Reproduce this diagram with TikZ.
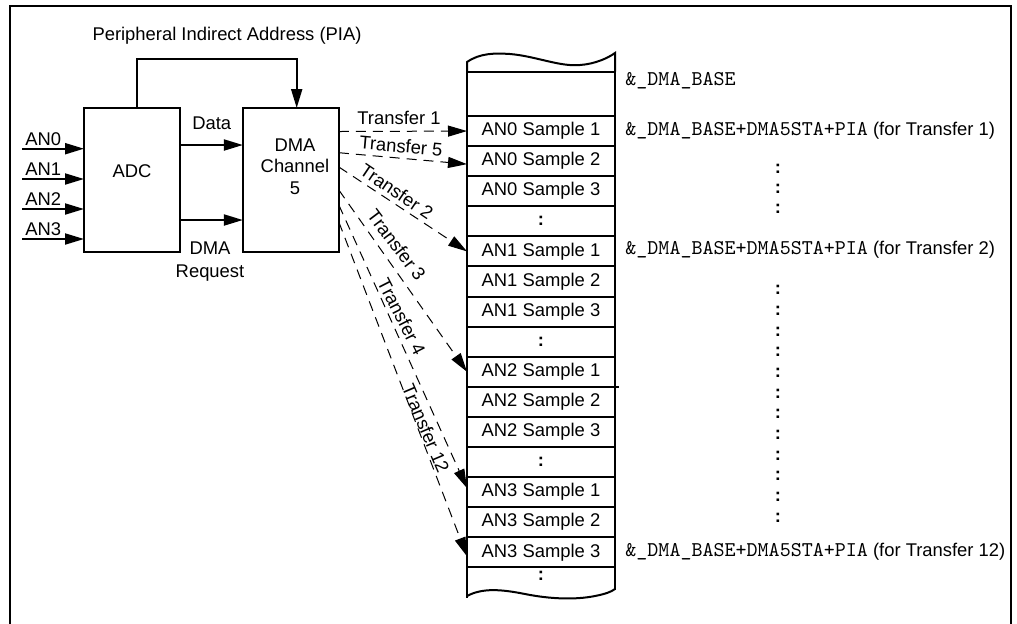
\documentclass[tikz,border=0pt]{standalone}
\usepackage{fontspec}
\setmainfont{Liberation Sans}
\usetikzlibrary{arrows.meta}
\newcommand{\addrfont}{\fontsize{10.5}{12}\selectfont\ttfamily}
\begin{document}
\begin{tikzpicture}[x=0.5pt,y=-0.5pt,
  every node/.style={font=\fontsize{9.2}{10.8}\selectfont, inner sep=0pt},
  box/.style={draw, line width=1pt, minimum width=48pt, minimum height=72pt, outer sep=0pt},
  cell/.style={draw, line width=1pt, minimum width=74pt, minimum height=15.045pt, outer sep=0pt},
  thick1/.style={line width=1pt},
  arr/.style={line width=1pt, -{Triangle[length=9.5pt,width=5.5pt]}},
  darr/.style={line width=0.5pt, dash pattern=on 5pt off 3.5pt, -{Triangle[length=9.5pt,width=5.5pt]}},
  dotc/.style={font=\fontsize{9.2}{10.8}\selectfont\bfseries}
]
\useasboundingbox (0,0) rectangle (1017,623);

% outer frame
\draw[thick1] (10,625) -- (10,5.5) -- (1010.5,5.5) -- (1010.5,625);

% blocks
\node[box] (adc) at (132,180) {};
\node[box] (dma) at (290.85,180) {};
\node (adct) at (132,171) {ADC};
\node[align=center] (dmat) at (295,166.5) {DMA\\Channel\\5};

% PIA feedback
\node (lpia) at (227,36) {Peripheral Indirect Address (PIA)};
\coordinate (pa) at (136.7,59.3);
\coordinate (pb) at (296.7,59.3);
\draw[arr] (pa |- adc.north) -- (pa) -- (pb) -- (pb |- dma.north);

% analog inputs
\coordinate (i0) at (22,148.7);
\coordinate (i1) at (22,179);
\coordinate (i2) at (22,209);
\coordinate (i3) at (22,239);
\foreach \k in {0,1,2,3}{
  \draw[arr] (i\k) -- (i\k -| adc.west);
}
\node[anchor=west] (lan0) at (25,139.3) {AN0};
\node[anchor=west] (lan1) at (25,169.3) {AN1};
\node[anchor=west] (lan2) at (25,199.3) {AN2};
\node[anchor=west] (lan3) at (25,228.8) {AN3};

% Data / DMA request
\coordinate (dd) at (182,145);
\coordinate (dr) at (182,220);
\draw[arr] (adc.east |- dd) -- (dma.west |- dd);
\draw[arr] (adc.east |- dr) -- (dma.west |- dr);
\node (ldata) at (211.7,123) {Data};
\node (ldma) at (210,248) {DMA};
\node (lreq) at (210,273) {Request};

% memory column
\node[cell, minimum height=22.15pt] (r0) at (541,93.85) {};
\foreach \i/\t in {1/AN0 Sample 1,2/AN0 Sample 2,3/AN0 Sample 3,4/\textbf{:},
                   5/AN1 Sample 1,6/AN1 Sample 2,7/AN1 Sample 3,8/\textbf{:},
                   9/AN2 Sample 1,10/AN2 Sample 2,11/AN2 Sample 3,12/\textbf{:},
                   13/AN3 Sample 1,14/AN3 Sample 2,15/AN3 Sample 3}{
  \node[cell] (r\i) at (541,{116+30.09*(\i-0.5)}) {\t};
}
\node[dotc] (r16) at (541,576) {:};
% torn top
\draw[thick1] (r0.north west) -- (467,62)
  .. controls (480,53) and (495,53) .. (510,54)
  .. controls (535,56) and (560,67) .. (580,65)
  .. controls (595,64) and (608,58) .. (615,53) -- (r0.north east);
% torn bottom
\draw[thick1] (r15.south west) -- (467,598);
\draw[thick1] (r15.south east) -- (615,590);
\draw[thick1] (467,596)
  .. controls (482,588) and (500,589) .. (525,594)
  .. controls (550,599) and (575,600) .. (595,596)
  .. controls (605,594) and (611,592) .. (615,589);
\draw[thick1] (r9.south east) -- ++(4,0);

% transfers
\coordinate (s1) at (339,131.5);
\coordinate (s5) at (339,152.7);
\coordinate (s2) at (339,167);
\coordinate (s3) at (339,190);
\coordinate (s4) at (339,205);
\coordinate (s12) at (339,222);
\draw[darr] (dma.east |- s1) -- (r1.west);
\draw[darr] (dma.east |- s5) -- ([yshift=-1.5pt]r2.west);
\draw[darr] (dma.east |- s2) -- (r5.west);
\draw[darr] (dma.east |- s3) -- (r9.west);
\draw[darr] (dma.east |- s4) -- ([yshift=2pt]r13.west);
\draw[darr] (dma.east |- s12) -- ([yshift=-2pt]r15.west);
\node (lt1) at (399,118) {Transfer 1};
\node[rotate=-5] (lt5) at (401,146) {Transfer 5};
\node[rotate=-34] (lt2) at (396.7,191.7) {Transfer 2};
\node[rotate=-53] (lt3) at (396.7,245) {Transfer 3};
\node[rotate=-63] (lt4) at (401.7,316.7) {Transfer 4};
\node[rotate=-67] (lt12) at (425.8,428.3) {Transfer 12};

% address annotations
\node[anchor=west, font=\addrfont] (a0) at (625,81) {\&\_DMA\_BASE};
\node[anchor=west] (a1) at (625,131) {{\addrfont\&\_DMA\_BASE+DMA5STA+PIA} (for Transfer 1)};
\node[anchor=west] (a2) at (625,250) {{\addrfont\&\_DMA\_BASE+DMA5STA+PIA} (for Transfer 2)};
\node[anchor=west] (a12) at (625,552) {{\addrfont\&\_DMA\_BASE+DMA5STA+PIA} (for Transfer 12)};
\foreach \k/\yy in {1/169,2/189,3/209}{
  \node[dotc] (c\k) at (778,\yy) {:};
}
\foreach \k in {0,...,11}{
  \node[dotc] (d\k) at (778,{290+20.7*\k}) {:};
}
\end{tikzpicture}
\end{document}
